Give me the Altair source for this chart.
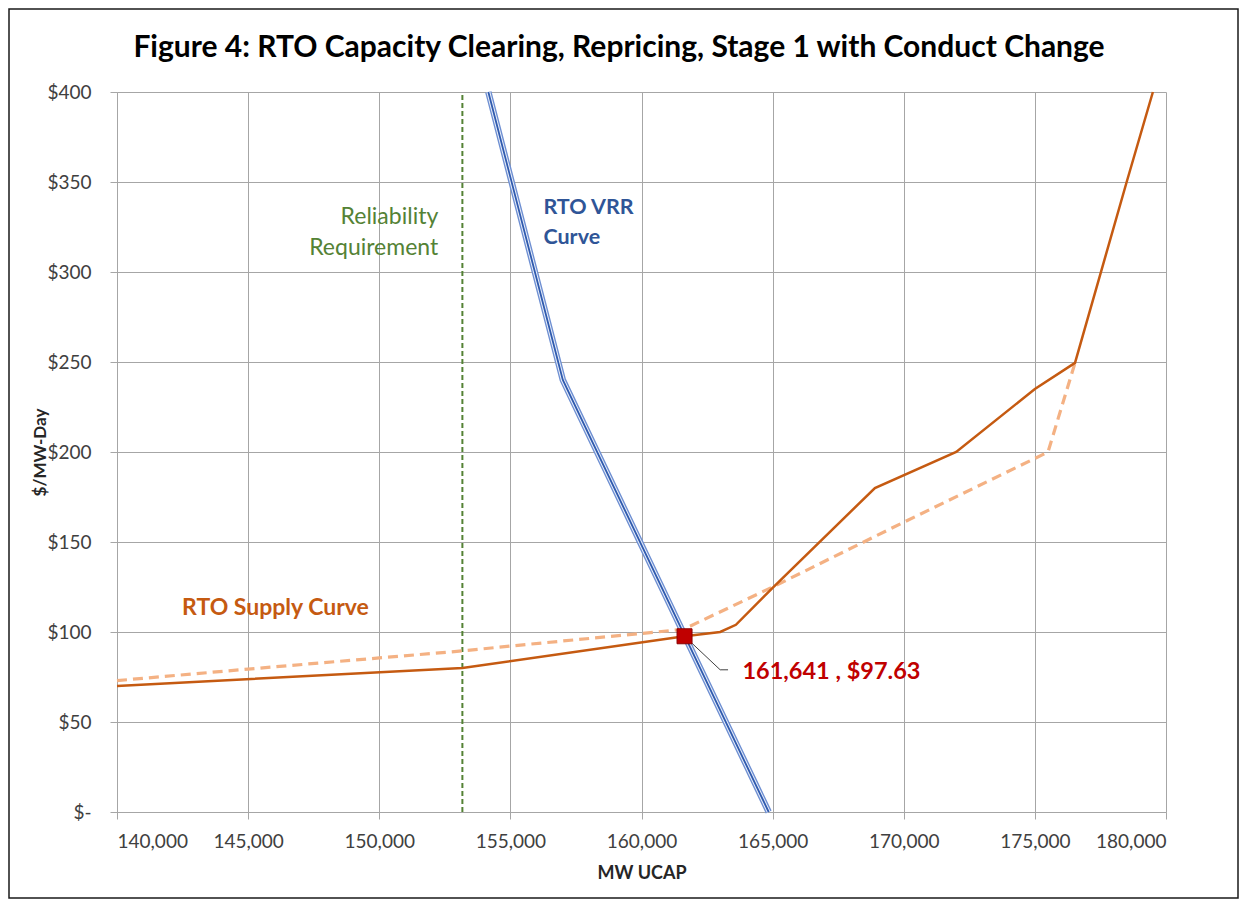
import altair as alt
import pandas as pd

FONT = "Lato"

# ---- data ----
x_ticks = [140000, 145000, 150000, 155000, 160000, 165000, 170000, 175000, 180000]
y_ticks = [0, 50, 100, 150, 200, 250, 300, 350, 400]

supply_mw = [140000, 153170, 161641, 163000, 163600, 165000, 168900, 172000, 175000, 176530, 178500, 179500]
supply_price = [70, 80, 97.63, 100, 104, 124.5, 180, 200, 235, 249.5, 350, 400]

pre_mw = [140000, 145000, 150000, 153170, 155000, 160000, 161600, 165000, 170000, 175500, 176530]
pre_price = [73, 79.4, 85.6, 89.5, 92.2, 99.2, 101.5, 125, 161, 200, 249.5]

vrr_mw = [154160, 157000, 164850]
vrr_price = [400, 240, 0]

reliability_mw = 153170
clear_mw = [161641]
clear_price = [97.63]
leader_mw = [161641, 163000, 163300]
leader_price = [97.63, 79, 79]

TITLE = "Figure 4: RTO Capacity Clearing, Repricing, Stage 1 with Conduct Change"

supply_df = pd.DataFrame({"mw": supply_mw, "price": supply_price})
pre_df = pd.DataFrame({"mw": pre_mw, "price": pre_price})
vrr_df = pd.DataFrame({"mw": vrr_mw, "price": vrr_price})
rel_df = pd.DataFrame({"mw": [reliability_mw, reliability_mw], "price": [0, 400]})
clear_df = pd.DataFrame({"mw": clear_mw, "price": clear_price})
leader_df = pd.DataFrame({"mw": leader_mw, "price": leader_price})

GRID = "#A6A6A6"

xscale = alt.Scale(domain=[140000, 180000], nice=False, zero=False)
yscale = alt.Scale(domain=[0, 400], nice=False, zero=False)

xaxis = alt.Axis(values=x_ticks, format=",d", title="MW UCAP", grid=True,
                 gridColor=GRID, domainColor=GRID, tickColor=GRID, tickSize=7,
                 labelFont=FONT, labelFontSize=19, labelColor="#404040", labelPadding=13,
                 titleFont=FONT, titleFontSize=18, titleFontWeight="bold", titleColor="#262626",
                 titleY=61, titleBaseline="middle")
yaxis = alt.Axis(values=y_ticks, title="$/MW-Day", grid=True,
                 labelExpr="datum.value == 0 ? '$-' : '$' + datum.value",
                 gridColor=GRID, domainColor=GRID, tickColor=GRID, tickSize=7,
                 labelFont=FONT, labelFontSize=19, labelColor="#404040", labelPadding=19,
                 titleFont=FONT, titleFontSize=17, titleFontWeight="bold", titleColor="#262626",
                 titleAngle=-90, titleX=-77, titleY=360, titleAlign="center", titleBaseline="middle")

base_x = alt.X("mw:Q", scale=xscale, axis=xaxis)
base_y = alt.Y("price:Q", scale=yscale, axis=yaxis)

frame = alt.Chart(clear_df).mark_rect(fill=None, stroke="#1a1a1a", strokeWidth=1.5).encode(
    x=alt.value(-108), x2=alt.value(1049 + 72), y=alt.value(-83), y2=alt.value(720 + 86))

title = alt.Chart(clear_df).mark_text(text=TITLE, font=FONT, fontSize=30, fontWeight="bold",
                                      color="#000000", align="center", baseline="middle").encode(
    x=alt.value(502), y=alt.value(-44))

rel = alt.Chart(rel_df).mark_line(color="#548235", strokeWidth=2, strokeDash=[5, 3]).encode(
    x=base_x, y=base_y)

pre = alt.Chart(pre_df).mark_line(color="#F4B183", strokeWidth=3.2, strokeDash=[10, 6]).encode(
    x="mw:Q", y="price:Q")

supply = alt.Chart(supply_df).mark_line(color="#C55A11", strokeWidth=2.5).encode(
    x="mw:Q", y="price:Q")

vrr_outer = alt.Chart(vrr_df).mark_line(color="#6E8FD2", strokeWidth=6.5).encode(x="mw:Q", y="price:Q")
vrr_mid = alt.Chart(vrr_df).mark_line(color="#E8EEF9", strokeWidth=3.8).encode(x="mw:Q", y="price:Q")
vrr_core = alt.Chart(vrr_df).mark_line(color="#2F5AAE", strokeWidth=1.8).encode(x="mw:Q", y="price:Q")

leader = alt.Chart(leader_df).mark_line(color="#404040", strokeWidth=1).encode(x="mw:Q", y="price:Q")

point = alt.Chart(clear_df).mark_point(shape="square", filled=True, size=225, color="#C00000",
                                       stroke="#8B0000", strokeWidth=1, opacity=1).encode(
    x="mw:Q", y="price:Q")

txt_rel = alt.Chart(clear_df).mark_text(text=["Reliability", "Requirement"], font=FONT, fontSize=23,
                                        color="#548235", align="right", baseline="middle",
                                        lineHeight=31).encode(x=alt.datum(152250), y=alt.datum(330.6))
txt_vrr = alt.Chart(clear_df).mark_text(text=["RTO VRR", "Curve"], font=FONT, fontSize=21.5,
                                        fontWeight="bold", color="#2F5597", align="left",
                                        baseline="middle", lineHeight=30).encode(
    x=alt.datum(156260), y=alt.datum(335.6))
txt_sup = alt.Chart(clear_df).mark_text(text="RTO Supply Curve", font=FONT, fontSize=23,
                                        fontWeight="bold", color="#C55A11", align="left",
                                        baseline="middle").encode(x=alt.datum(142480), y=alt.datum(113.3))
txt_pt = alt.Chart(clear_df).mark_text(text="161,641 ,  $97.63", font=FONT, fontSize=23.5,
                                       fontWeight="bold", color="#C00000", align="left",
                                       baseline="middle").encode(x=alt.datum(163850), y=alt.datum(77.8))

chart = alt.layer(rel, pre, supply, vrr_outer, vrr_mid, vrr_core, leader, point,
                  txt_rel, txt_vrr, txt_sup, txt_pt, title, frame).properties(
    width=1049, height=720,
    padding={"left": 109, "top": 84, "right": 73, "bottom": 87},
    autosize=alt.AutoSizeParams(type="none"),
    background="white",
).configure_view(stroke=None)

chart.save("out.html", embed_options={"renderer": "svg", "actions": False})
